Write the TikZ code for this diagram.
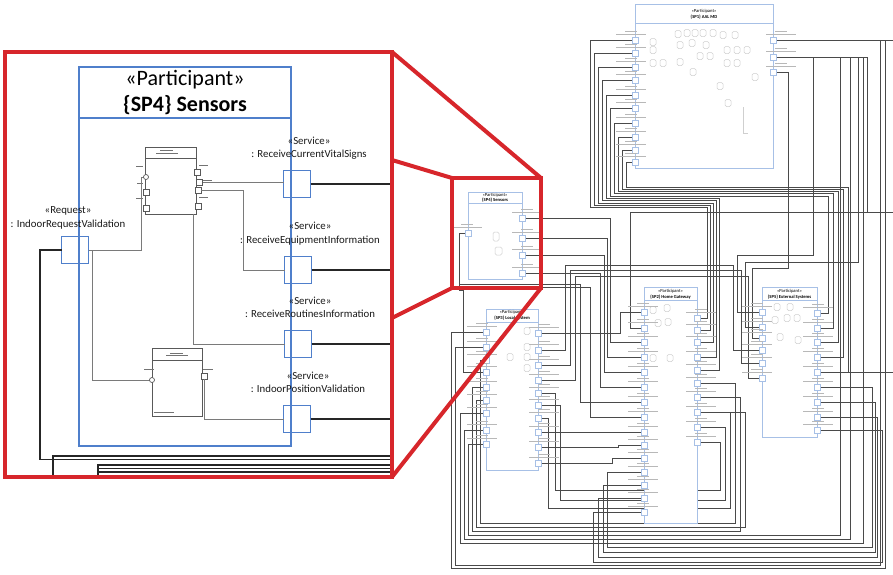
\documentclass[tikz,border=0pt]{standalone}
\usepackage{fontspec}
\setmainfont{Carlito}
\usetikzlibrary{calc}
\definecolor{zred}{HTML}{D7262B}
\definecolor{pblue}{HTML}{4F7FCB}
\definecolor{lblue}{HTML}{A7C0E6}
\definecolor{cgray}{HTML}{7A7A7A}
\definecolor{wgray}{HTML}{4A4A4A}
\definecolor{fgray}{HTML}{CFCFCF}
\begin{document}
\begin{tikzpicture}[x=1pt,y=-1pt,
  zline/.style={draw=zred, line width=4pt, line cap=round},
  zbox/.style={draw=zred, line width=4pt, inner sep=0, outer sep=0},
  partbox/.style={draw=pblue, line width=1.2pt, inner sep=0, outer sep=0},
  bigport/.style={draw=pblue, line width=1.2pt, minimum size=27pt, inner sep=0, outer sep=0},
  lbl/.style={font=\fontsize{10.8}{13.5}\selectfont, align=center, inner sep=0, text=black!90},
  ttl/.style={font=\fontsize{22}{24}\selectfont, inner sep=0},
  extconn/.style={draw=black!85, line width=1.6pt},
  inconn/.style={draw=cgray, line width=0.9pt},
  compbox/.style={draw=black!65, line width=0.8pt, inner sep=0, outer sep=0},
  cport/.style={draw=black!65, line width=0.7pt, fill=white, minimum size=6pt, inner sep=0, outer sep=0},
  ccirc/.style={draw=black!65, line width=0.7pt, fill=white, circle, minimum size=5pt, inner sep=0, outer sep=0},
  tick/.style={draw=black!55, line width=0.6pt},
  mini/.style={draw=lblue, line width=0.6pt, fill=white, inner sep=0, outer sep=0},
  mport/.style={draw=lblue, line width=0.5pt, fill=white, minimum size=6.5pt, inner sep=0, outer sep=0},
  wire/.style={draw=wgray, line width=0.5pt},
  tlbl/.style={draw=black!28, line width=0.6pt},
  mtitle/.style={font=\fontsize{4.6}{5}\selectfont, inner sep=0},
  mcomp/.style={draw=fgray, line width=0.5pt, rounded corners=1.5pt},
  mlab/.pic={\draw[tlbl] (-6,-8.5) -- (6,-8.5); \draw[tlbl] (-15,-5.5) -- (15,-5.5);}
]
\useasboundingbox[fill=white] (0,0) rectangle (893,574);

% ================= miniature: wires =================
\foreach \py/\xi/\ti/\dx/\ty/\ex in {40/590/207/707/318/697, 53/594/205/710/330/697, 67/598/203/713/342/697, 80/602/200/716/357/697, 95/606/198/719/370/697, 108/610/196/828/313/817, 123/614/193/833/328/817, 137/618/191/838/342/817, 150/622/189/843/357/817, 162/626/187/848/372/817}
  \draw[wire] (635,\py) -- (\xi,\py) -- (\xi,\ti) -- (\dx,\ti) -- (\dx,\ty) -- (\ex,\ty);
\draw[wire] (773,40) -- (893,40);
\draw[wire] (885,40) -- (885,568) -- (451,568) -- (451,332) -- (486,332);
\draw[wire] (880,40) -- (880,565) -- (455,565) -- (455,347) -- (486,347);
\draw[wire] (773,57) -- (867,57);
\draw[wire] (813,57) -- (813,255) -- (737,255) -- (737,312) -- (762,312);
\draw[wire] (858,57) -- (858,262) -- (745,262) -- (745,327) -- (762,327);
\draw[wire] (863,57) -- (863,543) -- (460,543) -- (460,413) -- (486,413);
\draw[wire] (850,57) -- (850,539) -- (464,539) -- (464,430) -- (486,430);
\draw[wire] (840,57) -- (840,535) -- (468,535) -- (468,444) -- (486,444);
\draw[wire] (867,57) -- (867,212) -- (630,212) -- (630,328) -- (644,328);
\draw[wire] (867,212) -- (893,212);
\draw[wire] (773,72) -- (788,72) -- (788,268) -- (752,268) -- (752,338) -- (762,338);
\draw[wire] (817,372) -- (893,372);
\draw[wire] (522,218) -- (610,218) -- (610,342) -- (644,342);
\draw[wire] (522,238) -- (607,238) -- (607,357) -- (644,357);
\draw[wire] (522,255) -- (604,255) -- (604,372) -- (644,372);
\draw[wire] (522,273) -- (600,273) -- (600,387) -- (644,387);
\draw[wire] (468,233) -- (459,233) -- (459,290) -- (463,290) -- (463,372) -- (486,372);
\draw[wire] (459,284) -- (580,284) -- (580,402) -- (644,402);
\draw[wire] (459,287) -- (590,287) -- (590,417) -- (644,417);
\draw[wire] (538,333) -- (620,333) -- (620,312) -- (644,312);
\draw[wire] (538,350) -- (565,350) -- (565,265) -- (733,265) -- (733,350) -- (762,350);
\draw[wire] (538,365) -- (570,365) -- (570,270) -- (741,270) -- (741,363) -- (762,363);
\draw[wire] (538,380) -- (575,380) -- (575,276) -- (748,276) -- (748,378) -- (762,378);
\draw[wire] (538,393) -- (555,393) -- (555,490) -- (720,490) -- (720,442) -- (697,442);
\draw[wire] (538,405) -- (560,405) -- (560,500) -- (725,500) -- (725,427) -- (697,427);
\draw[wire] (538,418) -- (548,418) -- (548,508) -- (730,508) -- (730,412) -- (697,412);
\draw[wire] (538,432) -- (644,432);
\draw[wire] (538,447) -- (618,447) -- (618,445) -- (644,445);
\draw[wire] (538,463) -- (612,463) -- (612,458) -- (644,458);
\draw[wire] (644,472) -- (607,472) -- (607,547) -- (872,547) -- (872,387) -- (817,387);
\draw[wire] (644,485) -- (603,485) -- (603,552) -- (875,552) -- (875,402) -- (817,402);
\draw[wire] (644,498) -- (598,498) -- (598,557) -- (877,557) -- (877,417) -- (817,417);
\draw[wire] (644,512) -- (593,512) -- (593,562) -- (882,562) -- (882,430) -- (817,430);
\draw[wire] (697,383) -- (735,383) -- (735,523) -- (480,523) -- (480,360) -- (486,360);
\draw[wire] (697,397) -- (740,397) -- (740,531) -- (472,531) -- (472,387) -- (486,387);
\draw[wire] (697,412) -- (745,412) -- (745,527) -- (476,527) -- (476,400) -- (486,400);

% ================= miniature: participants =================
\node[mini, minimum width=138pt, minimum height=164pt] (sp1) at (704,86) {};
\draw[mini] (635,23) -- (773,23);
\node[mtitle] (sp1a) at (704,11) {«Participant»};
\node[mtitle] (sp1b) at (704,17.5) {\textbf{\{SP1\} AAL MD}};
\foreach \x/\y in {678/34,687/33,695/33,703/33,713/33,723/35,735/35,653/42,680/45,692/43,706/45,653/50,700/56,710/56,727/50,737/50,747/50,653/63,663/63,680/62,727/63,737/63,693/72,755/77,720/86,728/103}
  \draw[mcomp] ({\x-3},{\y-3.5}) rectangle ({\x+3},{\y+3.5});
\draw[fgray, line width=0.5pt] (743,107) -- (743,133) -- (748,133);
\foreach \y [count=\i] in {40,53,67,80,95,108,123,137,150,162} {\pic at (631,\y) {mlab}; \node[mport] (sp1l\i) at (635,\y) {};}
\foreach \y [count=\i] in {40,57,72} {\pic at (781,\y) {mlab}; \node[mport] (sp1r\i) at (773,\y) {};}

\node[mini, minimum width=54pt, minimum height=87pt] (sp4m) at (495,235.5) {};
\draw[mini] (468,203) -- (522,203);
\node[mtitle] (sp4a) at (495,195.5) {«Participant»};
\node[mtitle] (sp4b) at (495,200.5) {\textbf{\{SP4\} Sensors}};
\draw[mcomp] (493,232) rectangle (499,241);
\draw[mcomp] (495,247) rectangle (502,255);
\foreach \y [count=\i] in {218,238,255,273} {\pic at (527,\y) {mlab}; \node[mport] (sp4r\i) at (522,\y) {};}
\pic at (467,233) {mlab};
\node[mport] (sp4q) at (468,233) {};

\node[mini, minimum width=52pt, minimum height=161pt] (sp3) at (512,389.5) {};
\draw[mini] (486,322) -- (538,322);
\node[mtitle] (sp3a) at (512,312) {«Participant»};
\node[mtitle] (sp3b) at (512,318.5) {\textbf{\{SP3\} Local System}};
\foreach \x/\y in {527/331,527/347,527/357,527/368,510/357}
  \draw[mcomp] ({\x-3},{\y-3.5}) rectangle ({\x+3},{\y+3.5});
\foreach \y [count=\i] in {332,347,360,372,387,400,413,430,444} {\pic at (482,\y) {mlab}; \node[mport] (sp3l\i) at (486,\y) {};}
\foreach \y [count=\i] in {333,350,365,380,393,405,418,432,447,463} {\pic at (544,\y) {mlab}; \node[mport] (sp3r\i) at (538,\y) {};}

\node[mini, minimum width=53pt, minimum height=236pt] (sp2) at (670.5,405) {};
\draw[mini] (644,300) -- (697,300);
\node[mtitle] (sp2a) at (670.5,291) {«Participant»};
\node[mtitle] (sp2b) at (670.5,297) {\textbf{\{SP2\} Home Gateway}};
\foreach \x/\y in {653/310,667/308,658/323,668/322,653/358,670/358}
  \draw[mcomp] ({\x-3},{\y-3.5}) rectangle ({\x+3},{\y+3.5});
\foreach \y [count=\i] in {312,328,342,357,372,387,402,417,432,445,458,472,485,498,512} {\pic at (643,\y) {mlab}; \node[mport] (sp2l\i) at (644,\y) {};}
\foreach \y [count=\i] in {318,330,342,357,370,383,397,412,427,442} {\pic at (701,\y) {mlab}; \node[mport] (sp2r\i) at (697,\y) {};}

\node[mini, minimum width=55pt, minimum height=150pt] (sp5) at (789.5,362) {};
\draw[mini] (762,300) -- (817,300);
\node[mtitle] (sp5a) at (789.5,291) {«Participant»};
\node[mtitle] (sp5b) at (789.5,297) {\textbf{\{SP5\} External Systems}};
\foreach \x/\y in {777/307,790/307,775/320,787/318,797/318,780/337,798/340}
  \draw[mcomp] ({\x-3},{\y-3.5}) rectangle ({\x+3},{\y+3.5});
\foreach \y [count=\i] in {312,327,338,350,363,378} {\pic at (757,\y) {mlab}; \node[mport] (sp5l\i) at (762,\y) {};}
\foreach \y [count=\i] in {313,328,342,357,372,387,402,417,430} {\pic at (818,\y) {mlab}; \node[mport] (sp5r\i) at (817,\y) {};}

% ================= magnified SP4 =================
\node[partbox, minimum width=212pt, minimum height=379pt] (sp4) at (185,256.5) {};
\draw[pblue, line width=1.2pt] (sp4.west |- 0,118) -- (sp4.east |- 0,118);
\node[ttl] (sp4st) at (185,80) {«Participant»};
\node[ttl] (sp4nm) at (185,105) {\textbf{\{SP4\} Sensors}};

\node[compbox, minimum width=51pt, minimum height=67pt] (c1) at (170.5,180.5) {};
\draw[black!65, line width=0.8pt] (145,158) -- (196,158);
\draw[tick] (160,150.5) -- (173,150.5);
\draw[tick] (156,153.5) -- (178,153.5);
\node[compbox, minimum width=50pt, minimum height=68pt] (c2) at (177,382) {};
\draw[black!65, line width=0.8pt] (152,360) -- (202,360);
\draw[tick] (170,353) -- (183,353);
\draw[tick] (166,355.5) -- (188,355.5);
\draw[tick] (154,412.5) -- (174,412.5);
\draw[tick] (136,166) -- (143,166);
\draw[tick] (137,183) -- (143,183);
\draw[tick] (136,198) -- (143,198);
\draw[tick] (199,165) -- (208,165);
\draw[tick] (203,180) -- (212,180);
\draw[tick] (199,197) -- (208,197);
\draw[tick] (144,369) -- (154,369);
\draw[tick] (203,369) -- (213,369);

\coordinate (k2) at (243,270);
\coordinate (k3) at (193,344);
\coordinate (k4) at (141,250);
\coordinate (k5) at (92,250);
\node[cport] (c1l2) at (146,192) {};
\node[cport] (c1l3) at (146,208) {};
\node[cport] (c1r1) at (197,172) {};
\node[cport] (c1r3) at (198,190) {};
\node[cport] (c1r4) at (198,206) {};
\node[cport] (c2r) at (204,376) {};

\node[bigport] (p1) at (297,184) {};
\node[bigport] (p2) at (298,270) {};
\node[bigport] (p3) at (298,344) {};
\node[bigport] (p4) at (297,419) {};
\node[bigport] (req) at (75,250) {};

\draw[inconn] (200,182) coordinate (c1r2a) -- (c1r2a -| p1.west);
\node[cport] (c1r2) at (199,182) {};
\draw[inconn] (c1r3.east) -| (k2) -- (p2.west);
\draw[inconn] (c1.south -| k3) -- (k3) -- (p3.west);
\draw[inconn] (req.east) -- (k4) |- (143.5,177) coordinate (c1l1w);
\draw[inconn] (k5) |- (149.5,380) coordinate (c2lw);
\draw[inconn] (c2r.south) |- (p4.west);
\node[ccirc] (c1l1) at (146,177) {};
\node[ccirc] (c2l) at (152,380) {};

\node[lbl] (l1) at (309,148) {«Service»\\: ReceiveCurrentVitalSigns};
\node[lbl] (l2) at (310,233.5) {«Service»\\: ReceiveEquipmentInformation};
\node[lbl] (l3) at (310,307.5) {«Service»\\: ReceiveRoutinesInformation};
\node[lbl] (l4) at (308,382.5) {«Service»\\: IndoorPositionValidation};
\node[lbl] (l5) at (68,218) {«Request»\\: IndoorRequestValidation};

\node[zbox, minimum width=387pt, minimum height=425pt] (bigz) at (198.5,264.5) {};
\draw[extconn] (p1.east) -- (p1.east -| bigz.east);
\draw[extconn] (p2.east) -- (p2.east -| bigz.east);
\draw[extconn] (p3.east) -- (p3.east -| bigz.east);
\draw[extconn] (p4.east) -- (p4.east -| bigz.east);
\coordinate (rq1) at (40,250);
\coordinate (rq2) at (40,459.5);
\draw[extconn, line width=1.4pt] (req.west) -- (rq1) -- (rq2) -- (rq2 -| bigz.east);
\coordinate (b1) at (53,456);
\draw[extconn, line width=1.4pt] (b1 |- bigz.south) -- (b1) -- (b1 -| bigz.east);
\coordinate (b2) at (98,465);
\draw[extconn, line width=1.4pt] (b2 |- bigz.south) -- (b2) -- (b2 -| bigz.east);
\draw[extconn, line width=1.4pt] (98,468.5) coordinate (b3) -- (b3 -| bigz.east);
\draw[extconn, line width=1.4pt] (98,472) coordinate (b4) -- (b4 -| bigz.east);

% ================= red zoom frame =================
\node[zbox, minimum width=89pt, minimum height=110pt] (smallz) at (496.5,233) {};
\node[zbox, minimum width=387pt, minimum height=425pt] (bigz2) at (198.5,264.5) {};
\coordinate (e1) at (392,160);
\coordinate (e2) at (392,318);
\draw[zline] (bigz2.north east) -- (smallz.north east);
\draw[zline] (e1) -- (smallz.north west);
\draw[zline] (e2) -- (smallz.south west);
\draw[zline] (bigz2.south east) -- (smallz.south east);
\end{tikzpicture}
\end{document}
